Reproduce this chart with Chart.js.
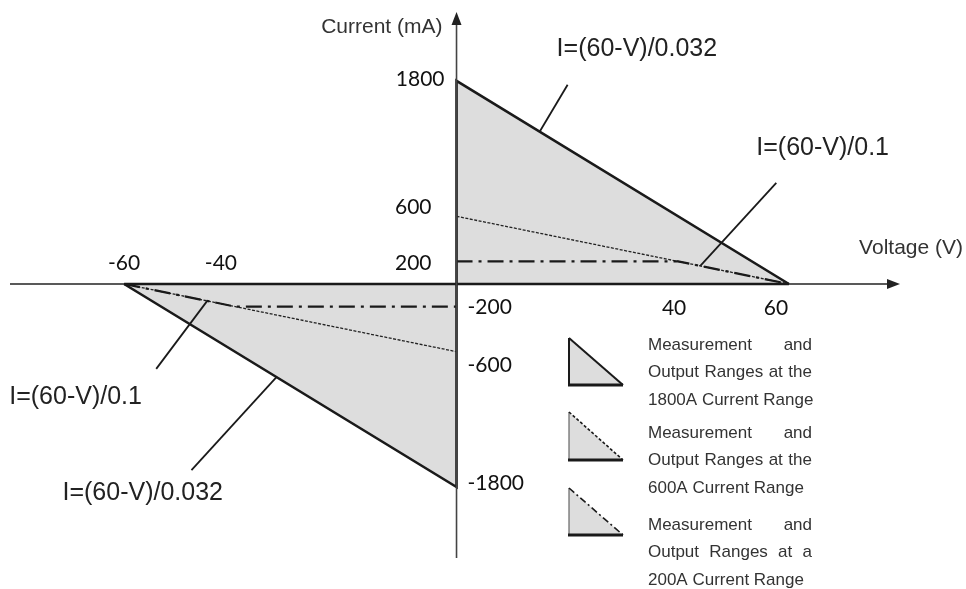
<!DOCTYPE html>
<html>
<head>
<meta charset="utf-8">
<script src="https://cdn.jsdelivr.net/npm/chart.js@4.4.1/dist/chart.umd.min.js"></script>
<style>
  html, body { margin: 0; padding: 0; background: #fff; }
  #wrap { width: 966px; height: 589px; }
</style>
</head>
<body>
<div id="wrap"><canvas id="ivChart" width="966" height="589"></canvas></div>
<script>
// range boundaries (voltage V, current mA)
const posV1800 = [0, 0, 60];
const posI1800 = [0, 1800, 0];
const negV1800 = [-60, 0, 0];
const negI1800 = [0, -1800, 0];
const posV600 = [0, 60];
const posI600 = [600, 0];
const negV600 = [-60, 0];
const negI600 = [0, -600];
const posV200 = [0, 40, 60];
const posI200 = [200, 200, 0];
const negV200 = [-60, -40, 0];
const negI200 = [0, -200, -200];

const xTickLabels = [-60, -40, 40, 60];
const yTickLabels = [1800, 600, 200, -200, -600, -1800];

const formulaLabels = ['I=(60-V)/0.032', 'I=(60-V)/0.1', 'I=(60-V)/0.1', 'I=(60-V)/0.032'];
const formulaAnchorV = [15, 44, -45, -32.5];
const formulaAnchorI = [1350, 160, -150, -825];

const legendLines = [
  ['Measurement and', 'Output Ranges at the', '1800A Current Range'],
  ['Measurement and', 'Output Ranges at the', '600A Current Range'],
  ['Measurement and', 'Output Ranges at a', '200A Current Range']
];

function pts(xs, ys) { return xs.map((x, i) => ({ x: x, y: ys[i] })); }

const FILL = '#dddddd';
const INK = '#1a1a1a';

// label nudges (px) so the numbers sit where the drawing puts them
const xNudge = [0, -14, -4, -13];
const yNudge = [-2, -9, 2, 1, 14, -4];
// leader end offset and text position relative to leader end
const leaderDx = [28, 76, -51, -85];
const leaderDy = [-47, -83, 68, 93];
const textDx = [-11, -20, -147, -129];
const textDy = [-36, -35, 28, 23];

const overlay = {
  id: 'overlay',
  afterDatasetsDraw(chart) {
    const ctx = chart.ctx;
    const xs = chart.scales.x, ys = chart.scales.y;
    const area = chart.chartArea;
    const x0 = xs.getPixelForValue(0), y0 = ys.getPixelForValue(0);
    ctx.save();

    // axes
    ctx.strokeStyle = '#222';
    ctx.lineWidth = 1.6;
    ctx.beginPath();
    ctx.moveTo(area.left, y0); ctx.lineTo(area.right - 8, y0);
    ctx.stroke();
    // triangle base along the voltage axis
    ctx.strokeStyle = INK;
    ctx.lineWidth = 2.6;
    ctx.beginPath();
    ctx.moveTo(xs.getPixelForValue(Math.min(...negV1800)), y0);
    ctx.lineTo(xs.getPixelForValue(Math.max(...posV1800)), y0);
    ctx.stroke();
    ctx.strokeStyle = '#444';
    ctx.lineWidth = 1.6;
    ctx.beginPath();
    ctx.moveTo(x0, area.bottom); ctx.lineTo(x0, area.top + 8);
    ctx.stroke();
    ctx.fillStyle = '#222';
    ctx.beginPath();
    ctx.moveTo(area.right, y0); ctx.lineTo(area.right - 13, y0 - 5); ctx.lineTo(area.right - 13, y0 + 5);
    ctx.closePath(); ctx.fill();
    ctx.beginPath();
    ctx.moveTo(x0, area.top); ctx.lineTo(x0 - 5, area.top + 13); ctx.lineTo(x0 + 5, area.top + 13);
    ctx.closePath(); ctx.fill();

    // axis titles
    ctx.fillStyle = '#333';
    ctx.font = '21px "Liberation Sans", Arial, sans-serif';
    ctx.textBaseline = 'middle';
    ctx.textAlign = 'right';
    ctx.fillText('Current (mA)', x0 - 14, 27);
    ctx.fillText('Voltage (V)', 963, 248);

    // tick labels
    ctx.fillStyle = '#111';
    ctx.font = '21px Lato, "Open Sans", sans-serif';
    xTickLabels.forEach((v, i) => {
      ctx.textAlign = 'center';
      const px = xs.getPixelForValue(v) + xNudge[i];
      ctx.fillText(String(v), px, v < 0 ? y0 - 21 : y0 + 24);
    });
    yTickLabels.forEach((v, i) => {
      const py = ys.getPixelForValue(v) + yNudge[i];
      if (v > 0) {
        ctx.textAlign = 'right';
        ctx.fillText(String(v), x0 - (v >= 1000 ? 12 : 25), py);
      } else {
        ctx.textAlign = 'left';
        ctx.fillText(String(v), x0 + 11, py);
      }
    });

    // formula callouts
    ctx.font = '25px "Liberation Sans", Arial, sans-serif';
    ctx.fillStyle = '#222';
    ctx.strokeStyle = INK;
    ctx.lineWidth = 1.8;
    ctx.textAlign = 'left';
    formulaLabels.forEach((t, i) => {
      const ax = xs.getPixelForValue(formulaAnchorV[i]);
      const ay = ys.getPixelForValue(formulaAnchorI[i]);
      const ex = ax + leaderDx[i], ey = ay + leaderDy[i];
      ctx.beginPath(); ctx.moveTo(ax, ay); ctx.lineTo(ex, ey); ctx.stroke();
      ctx.fillText(t, ex + textDx[i], ey + textDy[i]);
    });

    // legend
    const tri = [[338, 385], [412, 460], [488, 535]];
    const dashes = [[], [3, 2], [7, 3, 2, 3]];
    const textTop = [345, 433, 525];
    tri.forEach((r, i) => {
      const l = 569, rt = 623, t = r[0], b = r[1];
      ctx.fillStyle = FILL;
      ctx.beginPath(); ctx.moveTo(l, t); ctx.lineTo(rt, b); ctx.lineTo(l, b); ctx.closePath(); ctx.fill();
      ctx.setLineDash([]);
      ctx.strokeStyle = i === 0 ? INK : '#666';
      ctx.lineWidth = i === 0 ? 2 : 1.2;
      ctx.beginPath(); ctx.moveTo(l, t); ctx.lineTo(l, b); ctx.stroke();
      ctx.strokeStyle = INK;
      ctx.lineWidth = 3;
      ctx.beginPath(); ctx.moveTo(l - 1, b); ctx.lineTo(rt, b); ctx.stroke();
      ctx.lineWidth = i === 0 ? 2 : 1.6;
      ctx.setLineDash(dashes[i]);
      ctx.beginPath(); ctx.moveTo(l, t); ctx.lineTo(rt, b); ctx.stroke();
      ctx.setLineDash([]);

      ctx.fillStyle = '#333';
      ctx.font = '17px "Liberation Sans", Arial, sans-serif';
      legendLines[i].forEach((line, k) => {
        const yy = textTop[i] + k * 27.5;
        const words = line.split(' ');
        if (k < 2 && ctx.measureText(line).width < 163) {
          // justified line
          const ww = words.reduce((s, w) => s + ctx.measureText(w).width, 0);
          const gap = (164 - ww) / (words.length - 1);
          let cx = 648;
          ctx.textAlign = 'left';
          words.forEach(w => { ctx.fillText(w, cx, yy); cx += ctx.measureText(w).width + gap; });
        } else {
          ctx.textAlign = 'left';
          ctx.fillText(line, 648, yy);
        }
      });
    });
    ctx.restore();
  }
};

new Chart(document.getElementById('ivChart').getContext('2d'), {
  type: 'line',
  data: {
    datasets: [
      { label: '1800A range', order: 3, data: pts(posV1800, posI1800), borderColor: INK, borderWidth: 2.6, backgroundColor: FILL, fill: 'origin' },
      { label: '1800A range', order: 3, data: pts(negV1800, negI1800), borderColor: INK, borderWidth: 2.6, backgroundColor: FILL, fill: 'origin' },
      { label: '600A range', order: 2, data: pts(posV600, posI600), borderColor: '#222', borderWidth: 1.3, borderDash: [3, 1.5], fill: false },
      { label: '600A range', order: 2, data: pts(negV600, negI600), borderColor: '#222', borderWidth: 1.3, borderDash: [3, 1.5], fill: false },
      { label: '200A range', order: 1, data: pts(posV200, posI200), borderColor: INK, borderWidth: 2.2, borderDash: [16, 6, 3, 6], fill: false },
      { label: '200A range', order: 1, data: pts(negV200, negI200), borderColor: INK, borderWidth: 2.2, borderDash: [16, 6, 3, 6], fill: false }
    ]
  },
  options: {
    responsive: false,
    animation: false,
    layout: { padding: { left: 10, right: 66, top: 12, bottom: 31 } },
    elements: { point: { radius: 0 }, line: { tension: 0 } },
    scales: {
      x: { type: 'linear', min: -80.6, max: 80.05, display: false },
      y: { type: 'linear', min: -2429, max: 2411, display: false }
    },
    plugins: { legend: { display: false }, tooltip: { enabled: false } }
  },
  plugins: [overlay]
});
</script>
</body>
</html>
